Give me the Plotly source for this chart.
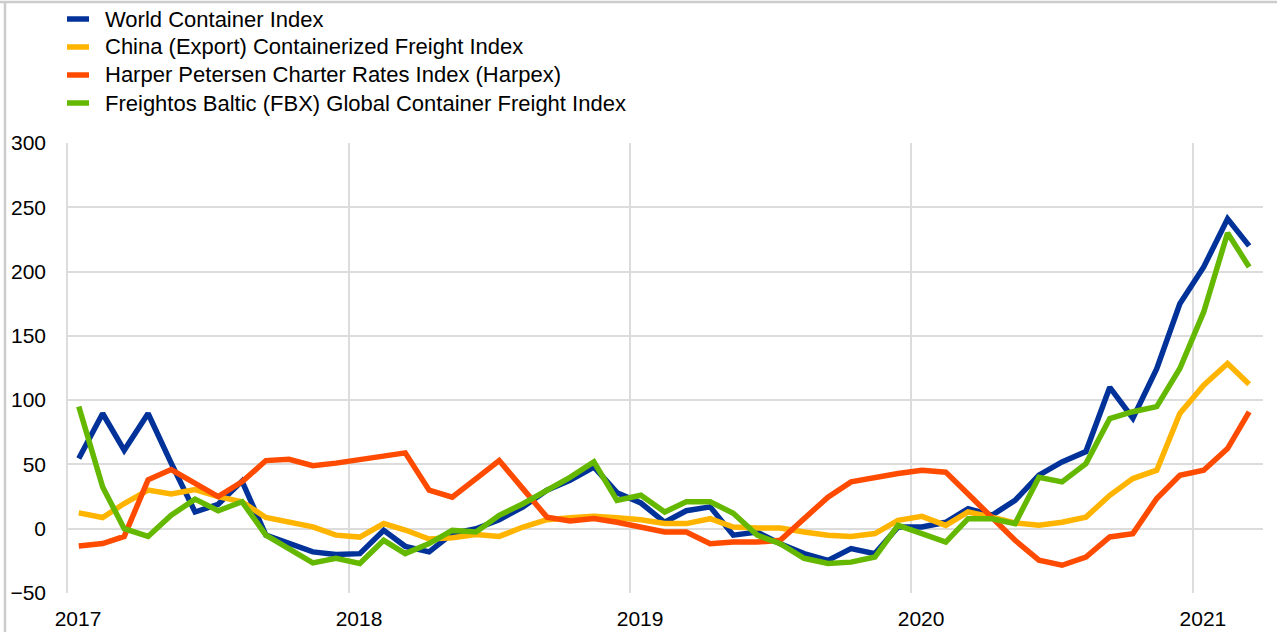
import plotly.graph_objects as go
import pandas as pd

# monthly observations, Jan 2017 - Mar 2021 (% change, y-o-y)
months = pd.date_range("2017-01-01", "2021-03-01", freq="MS") + pd.Timedelta(days=14)

world_container = [
    54.6, 89.6, 61, 89.6, 51, 13, 19, 37, -5, -11, -18, -20,
    -19.4, -1.3, -13.7, -18, -3.8, 0, 7, 17, 30, 37.7, 48, 28,
    20, 5, 14, 17, -5, -2.6, -11.7, -19.4, -24.6, -15.5, -19.4, 1.3,
    1.3, 5, 15.6, 10.5, 22, 41.6, 52, 60, 110, 86, 124.5, 175,
    203.6, 241, 220,
]
china_export = [
    12.3, 8.7, 19.6, 30, 27, 30.5, 25, 21, 8.7, 5, 1.4, -5,
    -6.5, 4, -1, -8, -7, -4.6, -6, 1.3, 7, 8.6, 9.6, 8.6,
    7, 4, 4, 7.8, 1.3, 0.5, 0.5, -2.6, -5, -6, -3.8, 6.5,
    9.6, 2.6, 13, 9, 4.5, 2.7, 5, 9, 26, 39, 45.5, 89.6,
    111.6, 128.5, 112.4,
]
harpex = [
    -13.5, -11.5, -6, 38, 46, 35, 25, 36.4, 53, 54, 49, 51,
    54, 57, 59, 30, 24.6, 39, 53, 31, 9, 6, 8, 5,
    1.5, -2.6, -2.6, -11.7, -10.4, -10.4, -9, 7.8, 24.6, 36.4, 40, 43,
    45.5, 44, 27, 9, -9, -24.5, -28.4, -22, -6.4, -3.8, 23.5, 41.6,
    45.5, 62.3, 90.9,
]
fbx = [
    95, 32.5, 0, -6, 10.5, 23, 14, 21, -5, -15.5, -26.6, -23,
    -27, -9, -19.4, -11.6, -1.3, -2.6, 10.4, 19.4, 29.8, 40, 52, 22,
    26, 13, 21, 21, 12, -5, -11.7, -23, -27, -26, -22, 2.6,
    -3.8, -10.4, 7.8, 7.8, 4, 40, 36.4, 50.6, 85.7, 91, 95, 124.6,
    168.6, 230, 203.6,
]

series = [
    ("World Container Index", world_container, "#003299"),
    ("China (Export) Containerized Freight Index", china_export, "#FFB400"),
    ("Harper Petersen Charter Rates Index (Harpex)", harpex, "#FF4B00"),
    ("Freightos Baltic (FBX) Global Container Freight Index", fbx, "#65B800"),
]

W, H = 1277, 632
ML, MR, MT, MB = 68, 14, 143, 39
PW, PH = W - ML - MR, H - MT - MB


def px(x):
    return (x - ML) / PW


def py(y):
    return (H - MB - y) / PH


fig = go.Figure()
for i, (name, values, color) in enumerate(series):
    fig.add_trace(go.Scatter(
        x=months, y=values, mode="lines", name=name,
        line=dict(color=color, width=5.5),
        showlegend=False,
    ))
    # legend entry drawn by hand (short swatch, tight rows)
    yc = 19 + 28 * i
    fig.add_shape(type="line", xref="paper", yref="paper",
                  x0=px(67), x1=px(89), y0=py(yc), y1=py(yc),
                  line=dict(color=color, width=5.5))
    fig.add_annotation(xref="paper", yref="paper", x=px(103), y=py(yc),
                       xanchor="left", yanchor="middle", showarrow=False,
                       text=name, font=dict(size=22))

grid = "#dcdcdc"
fig.update_layout(
    width=W, height=H,
    margin=dict(l=ML, r=MR, t=MT, b=MB),
    plot_bgcolor="white", paper_bgcolor="white",
    font=dict(family="Liberation Sans, Arial, sans-serif", size=21, color="#000000"),
    xaxis=dict(
        range=["2017-01-01", "2021-04-02"],
        tickvals=["2017-01-01", "2018-01-01", "2019-01-01", "2020-01-01", "2021-01-01"],
        ticktext=["2017", "2018", "2019", "2020", "2021"],
        ticklabelshift=10, ticklabelstandoff=11,
        showgrid=True, gridcolor=grid, gridwidth=1.5,
        zeroline=False, showline=False, ticks="", automargin=False,
    ),
    yaxis=dict(
        range=[-50, 300],
        tickvals=[-50, 0, 50, 100, 150, 200, 250, 300],
        showgrid=True, gridcolor=grid, gridwidth=1.5,
        zeroline=False, showline=True, linecolor=grid, linewidth=1.5,
        ticks="", ticklabelstandoff=16, automargin=False,
    ),
)

# thin frame at top and left of the chart
border = "#cccccc"
fig.add_shape(type="line", xref="paper", yref="paper",
              x0=px(0), x1=px(W), y0=py(2), y1=py(2),
              line=dict(color=border, width=2.5))
fig.add_shape(type="line", xref="paper", yref="paper",
              x0=px(5), x1=px(5), y0=py(H), y1=py(1),
              line=dict(color=border, width=2.5))

fig.write_html("out.html", config={"displayModeBar": False},
               post_script="document.body.style.margin='0';")
